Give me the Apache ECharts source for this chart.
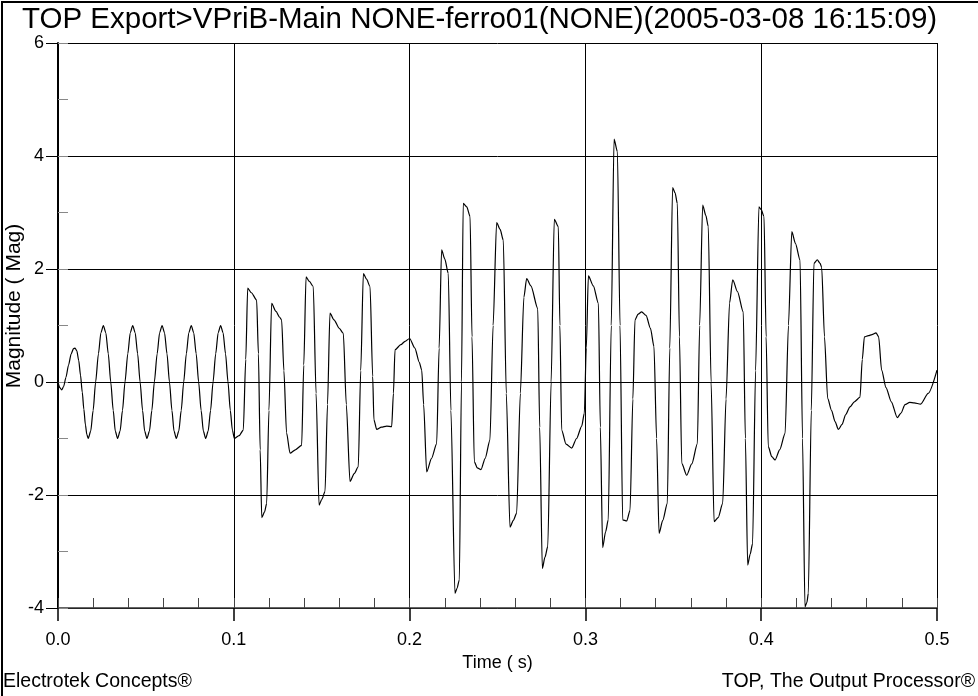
<!DOCTYPE html>
<html>
<head>
<meta charset="utf-8">
<script src="https://cdn.jsdelivr.net/npm/echarts@6/dist/echarts.min.js"></script>
<style>
  html, body { margin: 0; padding: 0; background: #fff; }
  #chart { width: 978px; height: 696px; }
</style>
</head>
<body>
<div id="chart"></div>
<script>
// [time (s), magnitude]
// before the event: a clean 60 Hz sine
var steadyState = [
  [0.0000, 0.00], [0.0010, -0.10], [0.0021, -0.14], [0.0032, -0.08], [0.0045, 0.08],
  [0.0060, 0.30], [0.0075, 0.50], [0.0088, 0.59], [0.0097, 0.60], [0.0107, 0.55],
  [0.0118, 0.38], [0.0128, 0.12], [0.0138, -0.18], [0.0147, -0.48], [0.0156, -0.76],
  [0.0164, -0.93], [0.0172, -1.00],
  [0.0186, -0.87], [0.0200, -0.50], [0.0214, 0.00], [0.0230, 0.50], [0.0244, 0.87],
  [0.0258, 1.00], [0.0272, 0.87], [0.0286, 0.50], [0.0300, 0.00], [0.0314, -0.50],
  [0.0326, -0.87], [0.0339, -1.00],
  [0.0353, -0.87], [0.0367, -0.50], [0.0381, 0.00], [0.0397, 0.50], [0.0411, 0.87],
  [0.0425, 1.00], [0.0439, 0.87], [0.0453, 0.50], [0.0467, 0.00], [0.0481, -0.50],
  [0.0493, -0.87], [0.0506, -1.00],
  [0.0520, -0.87], [0.0534, -0.50], [0.0548, 0.00], [0.0564, 0.50], [0.0578, 0.87],
  [0.0592, 1.00], [0.0606, 0.87], [0.0620, 0.50], [0.0634, 0.00], [0.0648, -0.50],
  [0.0660, -0.87], [0.0673, -1.00],
  [0.0687, -0.87], [0.0701, -0.50], [0.0715, 0.00], [0.0730, 0.50], [0.0744, 0.87],
  [0.0758, 1.00], [0.0772, 0.87], [0.0786, 0.50], [0.0800, 0.00], [0.0814, -0.50],
  [0.0827, -0.87], [0.0840, -1.00],
  [0.0854, -0.87], [0.0868, -0.50], [0.0882, 0.00], [0.0897, 0.50], [0.0911, 0.87],
  [0.0925, 1.00], [0.0939, 0.87], [0.0953, 0.50], [0.0967, 0.00], [0.0980, -0.50],
  [0.0992, -0.85], [0.1003, -1.00], [0.1030, -0.95]
];

// after the event: ferroresonance
var ferroresonance = [
  [0.1054, -0.85], [0.1068, 0.40], [0.1079, 1.66], [0.1100, 1.58], [0.1130, 1.45],
  [0.1140, 0.50], [0.1150, -1.20], [0.1159, -2.40], [0.1175, -2.30], [0.1187, -2.15],
  [0.1200, -0.50], [0.1215, 1.39], [0.1240, 1.25], [0.1260, 1.15], [0.1272, 1.10],
  [0.1285, 0.20], [0.1300, -0.90], [0.1320, -1.26], [0.1350, -1.20], [0.1386, -1.12],
  [0.1398, 0.30], [0.1411, 1.86], [0.1430, 1.78], [0.1452, 1.69], [0.1468, -0.20],
  [0.1485, -2.18], [0.1500, -2.08], [0.1519, -1.94], [0.1533, -0.40], [0.1547, 1.22],
  [0.1570, 1.10], [0.1600, 0.95], [0.1623, 0.86], [0.1640, -0.40], [0.1661, -1.76],
  [0.1685, -1.62], [0.1708, -1.50], [0.1722, 0.20], [0.1737, 1.92], [0.1755, 1.82],
  [0.1775, 1.69], [0.1790, 0.10], [0.1797, -0.67], [0.1813, -0.84], [0.1840, -0.80],
  [0.1870, -0.78], [0.1898, -0.79], [0.1908, -0.20], [0.1917, 0.57], [0.1950, 0.66],
  [0.1974, 0.72], [0.2000, 0.77], [0.2030, 0.60], [0.2055, 0.35], [0.2069, 0.21],
  [0.2080, -0.40], [0.2097, -1.59], [0.2125, -1.35], [0.2154, -1.09], [0.2168, 0.60],
  [0.2182, 2.34], [0.2200, 2.18], [0.2220, 1.92], [0.2235, -0.50], [0.2258, -3.74],
  [0.2270, -3.65], [0.2283, -3.50], [0.2295, 0.00], [0.2305, 3.16], [0.2325, 3.10],
  [0.2344, 2.93], [0.2355, 0.80], [0.2368, -1.41], [0.2385, -1.52], [0.2406, -1.55],
  [0.2430, -1.35], [0.2457, -1.03], [0.2475, 1.00], [0.2495, 2.82], [0.2515, 2.70],
  [0.2533, 2.51], [0.2550, -0.20], [0.2571, -2.57], [0.2590, -2.45], [0.2609, -2.32],
  [0.2630, -0.20], [0.2650, 1.50], [0.2666, 1.83], [0.2690, 1.70], [0.2729, 1.30],
  [0.2740, -0.80], [0.2755, -3.30], [0.2770, -3.10], [0.2786, -2.91], [0.2805, 0.00],
  [0.2823, 2.88], [0.2846, 2.75], [0.2855, 1.00], [0.2865, -0.85], [0.2890, -1.10],
  [0.2922, -1.17], [0.2950, -1.00], [0.2979, -0.78], [0.2994, -0.55], [0.3005, 0.60],
  [0.3017, 1.88], [0.3045, 1.70], [0.3074, 1.39], [0.3085, -0.80], [0.3098, -2.93],
  [0.3115, -2.65], [0.3130, -2.44], [0.3147, 1.00], [0.3163, 4.30], [0.3182, 4.08],
  [0.3197, 1.00], [0.3212, -2.44], [0.3235, -2.46], [0.3254, -2.27], [0.3270, -0.30],
  [0.3282, 1.10], [0.3300, 1.20], [0.3320, 1.24], [0.3345, 1.18], [0.3370, 0.95],
  [0.3390, 0.63], [0.3405, -1.00], [0.3419, -2.68], [0.3440, -2.45], [0.3466, -2.15],
  [0.3480, 0.60], [0.3496, 3.44], [0.3510, 3.35], [0.3523, 3.16], [0.3535, 0.80],
  [0.3548, -1.44], [0.3576, -1.65], [0.3605, -1.45], [0.3637, -1.09], [0.3650, 1.00],
  [0.3667, 3.13], [0.3685, 2.95], [0.3699, 2.75], [0.3715, 0.00], [0.3732, -2.47],
  [0.3755, -2.40], [0.3781, -2.15], [0.3800, -0.30], [0.3820, 1.40], [0.3838, 1.81],
  [0.3865, 1.60], [0.3898, 1.24], [0.3910, -1.00], [0.3923, -3.24], [0.3937, -3.05],
  [0.3951, -2.86], [0.3968, 0.20], [0.3987, 3.10], [0.4000, 3.05], [0.4016, 2.93],
  [0.4028, 0.80], [0.4040, -1.14], [0.4060, -1.32], [0.4079, -1.38], [0.4105, -1.20],
  [0.4136, -0.91], [0.4155, 1.00], [0.4174, 2.66], [0.4195, 2.45], [0.4221, 2.16],
  [0.4235, -1.00], [0.4249, -3.98], [0.4260, -3.90], [0.4268, -3.74], [0.4285, -0.50],
  [0.4300, 2.10], [0.4319, 2.16], [0.4335, 2.10], [0.4344, 2.03], [0.4360, 0.80],
  [0.4378, -0.29], [0.4400, -0.50], [0.4420, -0.70], [0.4439, -0.84], [0.4460, -0.75],
  [0.4480, -0.58], [0.4505, -0.44], [0.4530, -0.35], [0.4562, -0.27], [0.4575, 0.40],
  [0.4587, 0.80], [0.4610, 0.82], [0.4630, 0.84], [0.4653, 0.87], [0.4668, 0.80],
  [0.4685, 0.21], [0.4710, -0.10], [0.4740, -0.35], [0.4774, -0.63], [0.4795, -0.55],
  [0.4818, -0.40], [0.4845, -0.36], [0.4870, -0.37], [0.4907, -0.39], [0.4950, -0.20],
  [0.5000, 0.21]
];

var titleText = 'TOP Export>VPriB-Main NONE-ferro01(NONE)(2005-03-08 16:15:09)';
var xName = 'Time ( s)';
var yName = 'Magnitude ( Mag)';
var footLeft = 'Electrotek Concepts®';
var footRight = 'TOP, The Output Processor®';

var font = 'Liberation Sans, Arial, sans-serif';

var chart = echarts.init(document.getElementById('chart'), null, { renderer: 'canvas' });

var option = {
  backgroundColor: '#fff',
  animation: false,
  title: {
    text: titleText,
    left: 22,
    top: 5,
    padding: 0,
    textStyle: { fontFamily: font, fontSize: 29.5, fontWeight: 'normal', color: '#000' }
  },
  grid: { left: 58, top: 43, right: 41, bottom: 88, containLabel: false, outerBoundsMode: 'none' },
  xAxis: [{
    type: 'value',
    position: 'bottom',
    min: 0, max: 0.5, interval: 0.1,
    name: xName,
    nameLocation: 'middle',
    nameGap: 36,
    nameTextStyle: { fontFamily: font, fontSize: 18, color: '#000' },
    axisLine: { show: true, onZero: false, lineStyle: { color: '#333', width: 1.5 } },
    axisTick: { show: true, inside: false, length: 13, lineStyle: { color: '#000', width: 1.5 } },
    axisLabel: {
      fontFamily: font, fontSize: 18, color: '#000', margin: 23,
      showMinLabel: true, showMaxLabel: true,
      formatter: function (v) { return v.toFixed(1); }
    },
    splitLine: { show: true, lineStyle: { color: '#000', width: 1 } }
  }, {
    // inward minor ticks every 0.02 s
    type: 'value',
    position: 'bottom',
    min: 0, max: 0.5, interval: 0.02,
    axisLine: { show: false, onZero: false },
    axisTick: { show: true, inside: true, length: 10, lineStyle: { color: '#444', width: 1 } },
    axisLabel: { show: false },
    splitLine: { show: false }
  }],
  yAxis: [{
    type: 'value',
    position: 'left',
    min: -4, max: 6, interval: 2,
    axisLine: { show: true, onZero: false, lineStyle: { color: '#000', width: 2 } },
    axisTick: { show: true, inside: false, length: 12, lineStyle: { color: '#000', width: 1 } },
    axisLabel: {
      fontFamily: font, fontSize: 18, color: '#000', margin: 14,
      showMinLabel: true, showMaxLabel: true
    },
    splitLine: { show: true, lineStyle: { color: '#000', width: 1 } }
  }, {
    // inward minor ticks every 1
    type: 'value',
    position: 'left',
    min: -4, max: 6, interval: 1,
    axisLine: { show: false, onZero: false },
    axisTick: { show: true, inside: true, length: 10, lineStyle: { color: '#888', width: 1 } },
    axisLabel: { show: false },
    splitLine: { show: false }
  }],
  graphic: [
    {
      type: 'rect',
      shape: { x: 2, y: 2, width: 1200, height: 1200 },
      style: { fill: 'none', stroke: '#000', lineWidth: 2 },
      silent: true
    },
    {
      type: 'text',
      x: 14, y: 306,
      rotation: Math.PI / 2,
      style: {
        text: yName, fontFamily: font, fontSize: 21, fill: '#000',
        textAlign: 'center', textVerticalAlign: 'middle'
      }
    },
    {
      type: 'text',
      left: 3, top: 672,
      style: { text: footLeft, fontFamily: font, fontSize: 19.5, fill: '#000' }
    },
    {
      type: 'text',
      right: 3, top: 672,
      style: { text: footRight, fontFamily: font, fontSize: 19.5, fill: '#000' }
    }
  ],
  series: [{
    type: 'line',
    xAxisIndex: 0,
    yAxisIndex: 0,
    data: steadyState.concat(ferroresonance),
    showSymbol: false,
    smooth: 0.25,
    smoothMonotone: 'x',
    lineStyle: { color: '#000', width: 1.2 },
    z: 5
  }]
};

chart.setOption(option);
</script>
</body>
</html>
